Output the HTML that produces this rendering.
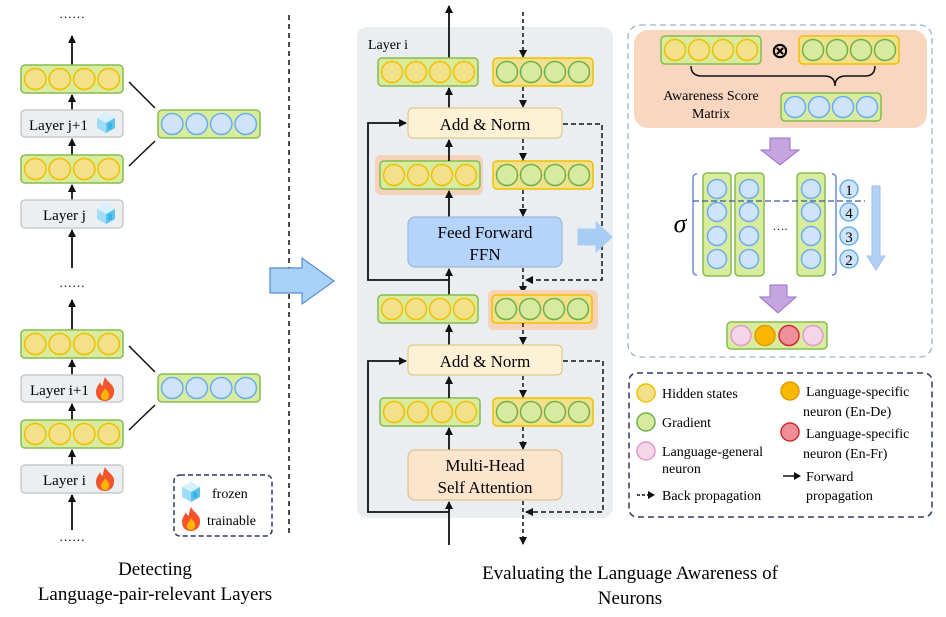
<!DOCTYPE html>
<html><head><meta charset="utf-8"><style>
body{margin:0;background:#fff}
svg{display:block;font-family:"Liberation Serif",serif}
</style></head><body>
<svg width="946" height="617" viewBox="0 0 946 617" xmlns="http://www.w3.org/2000/svg">
<defs>
<marker id="ah" markerWidth="8" markerHeight="8" refX="7" refY="4" orient="auto" markerUnits="userSpaceOnUse"><path d="M0,0 L8,4 L0,8 z" fill="#111"/></marker>
<g id="barY"><rect x="0" y="0" width="100" height="28" rx="4" fill="#d9eb9c" stroke="#86bc4e" stroke-width="1.5"/><circle cx="14" cy="14" r="10.5" fill="#f2e08a" stroke="#f0c000" stroke-width="1.5"/><circle cx="38" cy="14" r="10.5" fill="#f2e08a" stroke="#f0c000" stroke-width="1.5"/><circle cx="62" cy="14" r="10.5" fill="#f2e08a" stroke="#f0c000" stroke-width="1.5"/><circle cx="86" cy="14" r="10.5" fill="#f2e08a" stroke="#f0c000" stroke-width="1.5"/></g>
<g id="barG"><rect x="0" y="0" width="100" height="28" rx="4" fill="#f2e08a" stroke="#f0c000" stroke-width="1.5"/><circle cx="14" cy="14" r="10.5" fill="#d7eaa0" stroke="#6fb04a" stroke-width="1.5"/><circle cx="38" cy="14" r="10.5" fill="#d7eaa0" stroke="#6fb04a" stroke-width="1.5"/><circle cx="62" cy="14" r="10.5" fill="#d7eaa0" stroke="#6fb04a" stroke-width="1.5"/><circle cx="86" cy="14" r="10.5" fill="#d7eaa0" stroke="#6fb04a" stroke-width="1.5"/></g>
<g id="barB"><rect x="0" y="0" width="100" height="28" rx="4" fill="#d9eb9c" stroke="#86bc4e" stroke-width="1.5"/><circle cx="14" cy="14" r="10.5" fill="#cfe4fb" stroke="#6aaef0" stroke-width="1.5"/><circle cx="38" cy="14" r="10.5" fill="#cfe4fb" stroke="#6aaef0" stroke-width="1.5"/><circle cx="62" cy="14" r="10.5" fill="#cfe4fb" stroke="#6aaef0" stroke-width="1.5"/><circle cx="86" cy="14" r="10.5" fill="#cfe4fb" stroke="#6aaef0" stroke-width="1.5"/></g>
<g id="ice"><path d="M0,5 L9,0 L18,5 L18,15 L9,20 L0,15 z" fill="#9fdcf7"/><path d="M0,5 L9,10 L18,5 L9,0 z" fill="#d4f1fd"/><path d="M9,10 L9,20 L18,15 L18,5 z" fill="#5cc3ee"/><rect x="11" y="10" width="4" height="6" fill="#3fb0e6"/></g>
<g id="fire"><path d="M9,0 C12,6 19,8 18,15 C18,21 13,24 9,24 C4,24 0,21 0,15 C0,10 3,8 4,5 C5,9 7,9 7,8 C7,5 8,3 9,0 z" fill="#f2552c"/><path d="M9,11 C11,14 14,16 13,19 C13,22 11,23 9,23 C6,23 5,21 5,19 C5,16 8,14 9,11 z" fill="#ffb400"/></g>
</defs>

<!-- LEFT COLUMN -->
<text x="72" y="18" font-size="13" text-anchor="middle">……</text>
<line x1="72" y1="65" x2="72" y2="36" stroke="#111" stroke-width="1.8" marker-end="url(#ah)"/>
<use href="#barY" transform="translate(21,65) scale(1.02,1)"/>
<line x1="72" y1="110" x2="72" y2="95" stroke="#111" stroke-width="1.8" marker-end="url(#ah)"/>
<rect x="21" y="110" width="102" height="27" rx="4" fill="#eceff1" stroke="#c8cbce" stroke-width="1.5"/>
<text x="29" y="130" font-size="15">Layer j+1</text>
<use href="#ice" x="97" y="113"/>
<line x1="72" y1="155" x2="72" y2="139" stroke="#111" stroke-width="1.8" marker-end="url(#ah)"/>
<use href="#barY" transform="translate(21,155) scale(1.02,1)"/>
<line x1="72" y1="200" x2="72" y2="185" stroke="#111" stroke-width="1.8" marker-end="url(#ah)"/>
<rect x="21" y="200" width="102" height="28" rx="4" fill="#eceff1" stroke="#c8cbce" stroke-width="1.5"/>
<text x="43" y="220" font-size="15">Layer j</text>
<use href="#ice" x="97" y="204"/>
<line x1="72" y1="268" x2="72" y2="230" stroke="#111" stroke-width="1.8" marker-end="url(#ah)"/>
<use href="#barB" transform="translate(158,110) scale(1.02,1)"/>
<line x1="129" y1="82" x2="155" y2="108" stroke="#111" stroke-width="1.5"/>
<line x1="129" y1="166" x2="155" y2="141" stroke="#111" stroke-width="1.5"/>
<text x="72" y="287" font-size="13" text-anchor="middle">……</text>

<line x1="72" y1="330" x2="72" y2="300" stroke="#111" stroke-width="1.8" marker-end="url(#ah)"/>
<use href="#barY" transform="translate(21,330) scale(1.02,1)"/>
<line x1="72" y1="375" x2="72" y2="360" stroke="#111" stroke-width="1.8" marker-end="url(#ah)"/>
<rect x="21" y="375" width="102" height="27" rx="4" fill="#eceff1" stroke="#c8cbce" stroke-width="1.5"/>
<text x="30" y="395" font-size="15">Layer i+1</text>
<use href="#fire" x="96" y="377"/>
<line x1="72" y1="420" x2="72" y2="404" stroke="#111" stroke-width="1.8" marker-end="url(#ah)"/>
<use href="#barY" transform="translate(21,420) scale(1.02,1)"/>
<line x1="72" y1="465" x2="72" y2="450" stroke="#111" stroke-width="1.8" marker-end="url(#ah)"/>
<rect x="21" y="465" width="102" height="28" rx="4" fill="#eceff1" stroke="#c8cbce" stroke-width="1.5"/>
<text x="43" y="485" font-size="15">Layer i</text>
<use href="#fire" x="96" y="467"/>
<line x1="72" y1="530" x2="72" y2="495" stroke="#111" stroke-width="1.8" marker-end="url(#ah)"/>
<text x="72" y="541" font-size="13" text-anchor="middle">……</text>
<use href="#barB" transform="translate(158,374) scale(1.02,1)"/>
<line x1="129" y1="346" x2="155" y2="372" stroke="#111" stroke-width="1.5"/>
<line x1="129" y1="430" x2="155" y2="405" stroke="#111" stroke-width="1.5"/>

<rect x="174" y="475" width="98" height="61" rx="6" fill="none" stroke="#2e3a5a" stroke-width="1.5" stroke-dasharray="5,3"/>
<use href="#ice" x="182" y="482"/>
<text x="212" y="498" font-size="14">frozen</text>
<use href="#fire" x="182" y="507"/>
<text x="207" y="525" font-size="14">trainable</text>

<line x1="289" y1="15" x2="289" y2="537" stroke="#111" stroke-width="1.5" stroke-dasharray="5,4"/>
<path d="M270,268 L302,268 L302,258 L334,281 L302,304 L302,293 L270,293 z" fill="#a6d2f8" stroke="#5b8bd0" stroke-width="1.2"/>

<text x="155" y="575" font-size="19" text-anchor="middle">Detecting</text>
<text x="155" y="600" font-size="19" text-anchor="middle">Language-pair-relevant Layers</text>

<!-- MIDDLE PANEL -->
<rect x="357" y="27" width="256" height="491" rx="10" fill="#ebeef0"/>
<text x="368" y="49" font-size="14">Layer i</text>
<line x1="449" y1="58" x2="449" y2="6" stroke="#111" stroke-width="1.8" marker-end="url(#ah)"/>
<line x1="523" y1="12" x2="523" y2="57" stroke="#111" stroke-width="1.5" stroke-dasharray="4,3" marker-end="url(#ah)"/>
<use href="#barY" x="378" y="58"/>
<use href="#barG" x="493" y="58"/>
<line x1="449" y1="108" x2="449" y2="88" stroke="#111" stroke-width="1.8" marker-end="url(#ah)"/>
<line x1="523" y1="87" x2="523" y2="107" stroke="#111" stroke-width="1.5" stroke-dasharray="4,3" marker-end="url(#ah)"/>
<rect x="408" y="108" width="154" height="30" rx="5" fill="#fef2d6" stroke="#e0c98e" stroke-width="1.2"/>
<text x="485" y="130" font-size="17" text-anchor="middle">Add &amp; Norm</text>
<path d="M449,280 L368,280 L368,123 L406,123" fill="none" stroke="#111" stroke-width="1.8" marker-end="url(#ah)"/>
<path d="M563,124 L602,124 L602,280 L526,280" fill="none" stroke="#111" stroke-width="1.5" stroke-dasharray="5,3" marker-end="url(#ah)"/>
<rect x="375" y="155" width="108" height="40" rx="6" fill="#f6d2bb"/>
<use href="#barY" x="380" y="161"/>
<use href="#barG" x="493" y="161"/>
<line x1="449" y1="161" x2="449" y2="140" stroke="#111" stroke-width="1.8" marker-end="url(#ah)"/>
<line x1="523" y1="139" x2="523" y2="160" stroke="#111" stroke-width="1.5" stroke-dasharray="4,3" marker-end="url(#ah)"/>
<line x1="449" y1="217" x2="449" y2="191" stroke="#111" stroke-width="1.8" marker-end="url(#ah)"/>
<line x1="523" y1="190" x2="523" y2="216" stroke="#111" stroke-width="1.5" stroke-dasharray="4,3" marker-end="url(#ah)"/>
<rect x="408" y="217" width="154" height="50" rx="7" fill="#b6d3fb" stroke="#9cb8dc" stroke-width="1.2"/>
<text x="485" y="238" font-size="17" text-anchor="middle">Feed Forward</text>
<text x="485" y="260" font-size="17" text-anchor="middle">FFN</text>
<path d="M578,229 L596,229 L596,222 L612,237 L596,252 L596,245 L578,245 z" fill="#a8cdf5" stroke="#a8cdf5"/>
<line x1="449" y1="295" x2="449" y2="269" stroke="#111" stroke-width="1.8" marker-end="url(#ah)"/>
<line x1="523" y1="268" x2="523" y2="293" stroke="#111" stroke-width="1.5" stroke-dasharray="4,3" marker-end="url(#ah)"/>
<use href="#barY" x="378" y="295"/>
<rect x="488" y="290" width="110" height="40" rx="6" fill="#f6d2bb"/>
<use href="#barG" x="492" y="295"/>
<line x1="449" y1="345" x2="449" y2="325" stroke="#111" stroke-width="1.8" marker-end="url(#ah)"/>
<line x1="523" y1="323" x2="523" y2="344" stroke="#111" stroke-width="1.5" stroke-dasharray="4,3" marker-end="url(#ah)"/>
<rect x="408" y="345" width="154" height="30" rx="5" fill="#fef2d6" stroke="#e0c98e" stroke-width="1.2"/>
<text x="485" y="367" font-size="17" text-anchor="middle">Add &amp; Norm</text>
<path d="M449,512 L368,512 L368,361 L406,361" fill="none" stroke="#111" stroke-width="1.8" marker-end="url(#ah)"/>
<path d="M563,361 L603,361 L603,512 L526,512" fill="none" stroke="#111" stroke-width="1.5" stroke-dasharray="5,3" marker-end="url(#ah)"/>
<use href="#barY" x="380" y="398"/>
<use href="#barG" x="493" y="398"/>
<line x1="449" y1="398" x2="449" y2="377" stroke="#111" stroke-width="1.8" marker-end="url(#ah)"/>
<line x1="523" y1="376" x2="523" y2="397" stroke="#111" stroke-width="1.5" stroke-dasharray="4,3" marker-end="url(#ah)"/>
<line x1="449" y1="450" x2="449" y2="428" stroke="#111" stroke-width="1.8" marker-end="url(#ah)"/>
<line x1="523" y1="427" x2="523" y2="449" stroke="#111" stroke-width="1.5" stroke-dasharray="4,3" marker-end="url(#ah)"/>
<rect x="408" y="450" width="154" height="50" rx="7" fill="#fde4cc" stroke="#dfc08f" stroke-width="1.2"/>
<text x="485" y="471" font-size="17" text-anchor="middle">Multi-Head</text>
<text x="485" y="493" font-size="17" text-anchor="middle">Self Attention</text>
<line x1="449" y1="545" x2="449" y2="502" stroke="#111" stroke-width="1.8" marker-end="url(#ah)"/>
<line x1="523" y1="501" x2="523" y2="544" stroke="#111" stroke-width="1.5" stroke-dasharray="4,3" marker-end="url(#ah)"/>

<text x="630" y="579" font-size="19" text-anchor="middle">Evaluating the Language Awareness of</text>
<text x="630" y="604" font-size="19" text-anchor="middle">Neurons</text>

<!-- RIGHT PANEL -->
<rect x="628" y="25" width="304" height="332" rx="12" fill="none" stroke="#9eb2cc" stroke-width="1.3" stroke-dasharray="6,4"/>
<rect x="634" y="30" width="293" height="98" rx="14" fill="#f9d6c0"/>
<use href="#barY" x="661" y="36"/>
<text x="780" y="58" font-size="22" text-anchor="middle" font-family="DejaVu Sans,sans-serif" font-weight="bold">⊗</text>
<use href="#barG" x="799" y="36"/>
<path d="M691,66 Q691,76 702,76 L824,76 Q835,76 835,86 Q835,76 846,76 L865,76 Q875,76 875,66" fill="none" stroke="#111" stroke-width="1.5"/>
<text x="711" y="100" font-size="14" text-anchor="middle">Awareness Score</text>
<text x="711" y="118" font-size="14" text-anchor="middle">Matrix</text>
<use href="#barB" x="781" y="93"/>
<path d="M770,138 L790,138 L790,150 L799,150 L780,165 L761,150 L770,150 z" fill="#c5a4e0" stroke="#9a70c8" stroke-width="1"/>

<text x="680" y="232" font-size="26" text-anchor="middle" font-style="italic">σ</text>
<path d="M697,174 Q693,174 693,178 L693,271 Q693,275 697,275" fill="none" stroke="#6a8fd0" stroke-width="1.5"/>
<path d="M832,174 Q836,174 836,178 L836,271 Q836,275 832,275" fill="none" stroke="#6a8fd0" stroke-width="1.5"/>
<g fill="#d9eb9c" stroke="#86bc4e" stroke-width="1.5">
<rect x="703" y="173" width="28" height="103" rx="4"/><rect x="735" y="173" width="29" height="103" rx="4"/><rect x="797" y="173" width="28" height="103" rx="4"/></g>
<g fill="#cfe4fb" stroke="#6aaef0" stroke-width="1.5">
<circle cx="717" cy="189" r="9.5"/><circle cx="717" cy="212" r="9.5"/><circle cx="717" cy="236" r="9.5"/><circle cx="717" cy="259" r="9.5"/>
<circle cx="749" cy="189" r="9.5"/><circle cx="749" cy="212" r="9.5"/><circle cx="749" cy="236" r="9.5"/><circle cx="749" cy="259" r="9.5"/>
<circle cx="811" cy="189" r="9.5"/><circle cx="811" cy="212" r="9.5"/><circle cx="811" cy="236" r="9.5"/><circle cx="811" cy="259" r="9.5"/>
<circle cx="849" cy="189" r="9"/><circle cx="849" cy="212" r="9"/><circle cx="849" cy="236" r="9"/><circle cx="849" cy="259" r="9"/></g>
<g font-size="15" text-anchor="middle"><text x="849" y="195">1</text><text x="849" y="218">4</text><text x="849" y="242">3</text><text x="849" y="265">2</text></g>
<text x="780" y="230" font-size="12" text-anchor="middle">….</text>
<line x1="693" y1="201" x2="865" y2="201" stroke="#3a5a9a" stroke-width="1.3" stroke-dasharray="6,3"/>
<path d="M872,186 L880,186 L880,256 L885,256 L876,270 L867,256 L872,256 z" fill="#b3d0f5" stroke="#a3c2ec" stroke-width="1"/>
<path d="M770,285 L787,285 L787,297 L796,297 L778,313 L760,297 L770,297 z" fill="#c5a4e0" stroke="#9a70c8" stroke-width="1"/>
<rect x="727" y="322" width="100" height="27" rx="4" fill="#d9eb9c" stroke="#86bc4e" stroke-width="1.5"/>
<circle cx="741" cy="335.5" r="10" fill="#f5d5e8" stroke="#e09acb" stroke-width="1.5"/>
<circle cx="765" cy="335.5" r="10" fill="#fbb800" stroke="#e09a00" stroke-width="1.5"/>
<circle cx="789" cy="335.5" r="10" fill="#ef9099" stroke="#d02a3a" stroke-width="1.5"/>
<circle cx="813" cy="335.5" r="10" fill="#f5d5e8" stroke="#e09acb" stroke-width="1.5"/>

<!-- LEGEND -->
<rect x="629" y="373" width="303" height="144" rx="8" fill="none" stroke="#2e3a5a" stroke-width="1.5" stroke-dasharray="6,4"/>
<g font-size="14">
<circle cx="646" cy="393" r="9" fill="#f2e08a" stroke="#f0c000" stroke-width="1.5"/><text x="662" y="398">Hidden states</text>
<circle cx="646" cy="422" r="9" fill="#d7eaa0" stroke="#6fb04a" stroke-width="1.5"/><text x="662" y="427">Gradient</text>
<circle cx="646" cy="451" r="9" fill="#f5d5e8" stroke="#e09acb" stroke-width="1.5"/><text x="662" y="456">Language-general</text><text x="662" y="473">neuron</text>
<line x1="637" y1="495" x2="648" y2="495" stroke="#111" stroke-width="1.5" stroke-dasharray="3,2"/><path d="M648,491 L655,495 L648,499 z" fill="#111"/><text x="662" y="500">Back propagation</text>
<circle cx="790" cy="391" r="9" fill="#fbb800" stroke="#e09a00" stroke-width="1.5"/><text x="806" y="396">Language-specific</text><text x="803" y="416">neuron (En-De)</text>
<circle cx="790" cy="432" r="9" fill="#ef9099" stroke="#d02a3a" stroke-width="1.5"/><text x="806" y="438">Language-specific</text><text x="803" y="458">neuron (En-Fr)</text>
<line x1="783" y1="476" x2="794" y2="476" stroke="#111" stroke-width="1.5"/><path d="M794,472 L801,476 L794,480 z" fill="#111"/><text x="806" y="481">Forward</text><text x="806" y="500">propagation</text>
</g>
</svg>
</body></html>
